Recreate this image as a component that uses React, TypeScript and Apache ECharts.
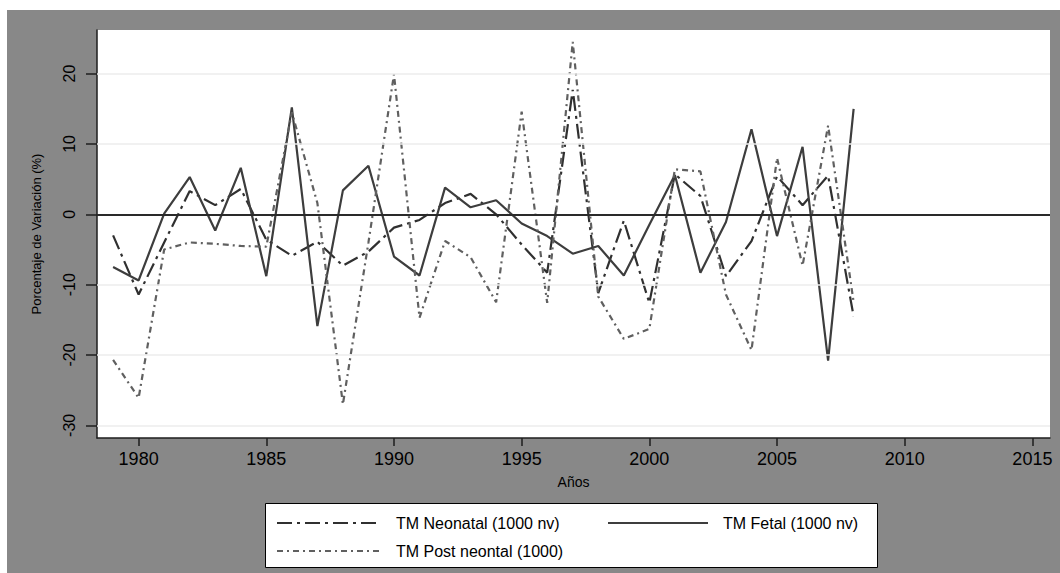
import React, { useEffect, useRef } from "react";
import * as echarts from "echarts";

const years = [
  1979, 1980, 1981, 1982, 1983, 1984, 1985, 1986, 1987, 1988,
  1989, 1990, 1991, 1992, 1993, 1994, 1995, 1996, 1997, 1998,
  1999, 2000, 2001, 2002, 2003, 2004, 2005, 2006, 2007, 2008,
];

const neonatal = [
  -3.0, -11.4, -4.0, 3.3, 1.3, 3.6, -3.6, -5.9, -3.9, -7.3,
  -5.3, -1.9, -0.8, 1.6, 2.9, 0.0, -4.3, -8.3, 17.7, -11.2,
  -0.9, -12.6, 5.7, 2.6, -8.8, -3.8, 5.4, 1.3, 5.5, -14.5,
];

const fetal = [
  -7.5, -9.4, 0.1, 5.3, -2.3, 6.6, -8.8, 15.2, -15.9, 3.4,
  6.9, -6.0, -8.7, 3.8, 1.0, 2.0, -1.3, -3.1, -5.6, -4.5,
  -8.7, -1.5, 5.6, -8.3, -1.1, 12.1, -3.1, 9.6, -20.8, 15.0,
];

const postNeonatal = [
  -20.7, -26.1, -5.0, -4.0, -4.2, -4.5, -4.6, 14.5, 1.6, -27.0,
  -4.0, 19.9, -14.7, -3.8, -6.1, -12.5, 14.6, -12.6, 24.5, -11.7,
  -17.7, -16.3, 6.4, 6.1, -11.4, -19.3, 8.0, -7.3, 12.6, -12.5,
];

const xTicks = [1980, 1985, 1990, 1995, 2000, 2005, 2010, 2015];
const yTicks = [-30, -20, -10, 0, 10, 20];
const gridValues = [-30, -20, -10, 10, 20];

const NAME_NEO = "TM Neonatal (1000 nv)";
const NAME_FETAL = "TM Fetal (1000 nv)";
const NAME_POST = "TM Post neontal (1000)";

export default function App() {
  const ref = useRef<HTMLDivElement>(null);

  useEffect(() => {
    if (!ref.current) return;
    const chart = echarts.init(ref.current, null, { renderer: "svg" });
    const font = "'Liberation Sans', Arial, Helvetica, sans-serif";
    const pair = (arr: number[]) => years.map((y, i) => [y, arr[i]]);
    const axisColor = "#1e1e1e";

    const legendCommon = {
      orient: "horizontal",
      padding: 0,
      itemHeight: 14,
      itemGap: 0,
      selectedMode: false,
      itemStyle: { opacity: 0, borderWidth: 0 },
      textStyle: {
        fontFamily: font,
        fontSize: 16,
        color: "#000",
        padding: [0, 0, 0, 10],
      },
    };

    chart.setOption({
      animation: false,
      backgroundColor: "#ffffff",
      textStyle: { fontFamily: font },
      graphic: [
        {
          type: "rect",
          z: -10,
          silent: true,
          shape: { x: 7, y: 10, width: 1053, height: 563 },
          style: { fill: "#888888" },
        },
        {
          type: "rect",
          z: -5,
          silent: true,
          shape: { x: 265.5, y: 503.5, width: 612, height: 64 },
          style: { fill: "#ffffff", stroke: "#000000", lineWidth: 1 },
        },
      ],
      grid: {
        left: 97,
        top: 30,
        width: 953,
        height: 408,
        show: true,
        backgroundColor: "#ffffff",
        borderWidth: 0,
        containLabel: false,
        outerBoundsMode: "none",
      },
      legend: [
        { ...legendCommon, data: [NAME_NEO], left: 276, top: 515, itemWidth: 104 },
        { ...legendCommon, data: [NAME_FETAL], left: 607, top: 515, itemWidth: 100 },
        { ...legendCommon, data: [NAME_POST], left: 276, top: 543, itemWidth: 104 },
      ],
      xAxis: {
        type: "value",
        min: 1978.37,
        max: 2015.69,
        name: "Años",
        nameLocation: "middle",
        nameGap: 37,
        nameTextStyle: { fontFamily: font, fontSize: 14, color: "#000" },
        axisLine: { show: true, onZero: false, lineStyle: { color: axisColor, width: 1.5 } },
        axisTick: {
          show: true,
          length: 8,
          customValues: xTicks,
          lineStyle: { color: axisColor, width: 1.5 },
        },
        axisLabel: {
          customValues: xTicks,
          margin: 12,
          fontSize: 18,
          color: "#000",
          fontFamily: font,
          formatter: (v: number) => String(v),
        },
        splitLine: { show: false },
      },
      yAxis: {
        type: "value",
        min: -31.8,
        max: 26.2,
        name: "Porcentaje de Variación (%)",
        nameLocation: "middle",
        nameRotate: 90,
        nameGap: 54,
        nameTextStyle: { fontFamily: font, fontSize: 13, color: "#000" },
        axisLine: { show: true, onZero: false, lineStyle: { color: axisColor, width: 1.5 } },
        axisTick: {
          show: true,
          length: 11,
          customValues: yTicks,
          lineStyle: { color: axisColor, width: 1.5 },
        },
        axisLabel: {
          customValues: yTicks,
          rotate: 90,
          margin: 20,
          fontSize: 16,
          color: "#000",
          fontFamily: font,
          formatter: (v: number) => String(v),
        },
        splitLine: { show: false },
      },
      series: [
        {
          name: "grid",
          type: "line",
          data: [],
          z: 1,
          silent: true,
          markLine: {
            silent: true,
            symbol: "none",
            label: { show: false },
            lineStyle: { color: "#ececec", width: 1.6, type: "solid" },
            data: gridValues.map((v) => ({ yAxis: v })),
          },
        },
        {
          name: "zero",
          type: "line",
          data: [],
          z: 1,
          silent: true,
          markLine: {
            silent: true,
            symbol: "none",
            label: { show: false },
            lineStyle: { color: "#2a2a2a", width: 2, type: "solid" },
            data: [{ yAxis: 0 }],
          },
        },
        {
          name: NAME_NEO,
          type: "line",
          data: pair(neonatal),
          z: 3,
          symbol: "none",
          showSymbol: false,
          itemStyle: { color: "#303030" },
          lineStyle: { color: "#303030", width: 2.2, type: [15, 5, 3, 5] },
        },
        {
          name: NAME_FETAL,
          type: "line",
          data: pair(fetal),
          z: 3,
          symbol: "none",
          showSymbol: false,
          itemStyle: { color: "#3d3d3d" },
          lineStyle: { color: "#3d3d3d", width: 2.2, type: "solid" },
        },
        {
          name: NAME_POST,
          type: "line",
          data: pair(postNeonatal),
          z: 3,
          symbol: "none",
          showSymbol: false,
          itemStyle: { color: "#606060" },
          lineStyle: { color: "#606060", width: 2.2, type: [6, 4, 2, 4] },
        },
      ],
    });

    return () => {
      chart.dispose();
    };
  }, []);

  return (
    <div
      ref={ref}
      style={{ position: "absolute", left: 0, top: 0, width: 1060, height: 573 }}
    />
  );
}
